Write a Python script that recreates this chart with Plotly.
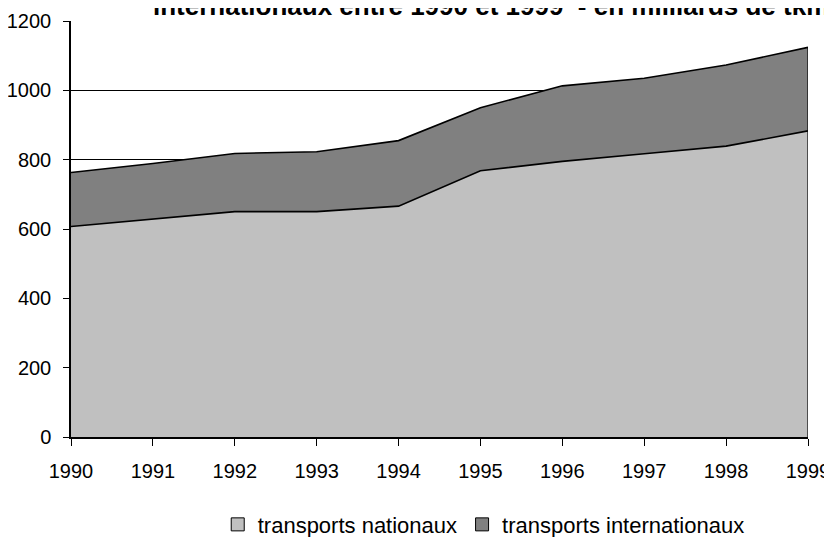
import plotly.graph_objects as go

years = [1990, 1991, 1992, 1993, 1994, 1995, 1996, 1997, 1998, 1999]
nationaux = [607, 628, 650, 650, 666, 768, 795, 817, 839, 883]
internationaux = [156, 161, 168, 173, 189, 182, 218, 218, 234, 241]
y_ticks = [0, 200, 400, 600, 800, 1000, 1200]
title_text = "internationaux entre 1990 et 1999  - en milliards de tkm"
names = ["transports nationaux", "transports internationaux"]
fills = ["#C0C0C0", "#808080"]

FONT = "Liberation Sans, Arial, sans-serif"

fig = go.Figure()
for vals, nm, col in zip([nationaux, internationaux], names, fills):
    fig.add_trace(go.Scatter(
        x=years, y=vals, stackgroup="s", mode="lines",
        line=dict(color="black", width=1.6), fillcolor=col,
        name=nm, showlegend=False, hoverinfo="skip"))

# right edge border of the stacked area
total_last = nationaux[-1] + internationaux[-1]
fig.add_trace(go.Scatter(x=[years[-1], years[-1]], y=[0, total_last], mode="lines",
                         line=dict(color="black", width=1.2), showlegend=False,
                         hoverinfo="skip"))

# legend entries (square swatches)
for nm, col in zip(names, fills):
    fig.add_trace(go.Scatter(x=[None], y=[None], mode="markers", name=nm,
                             marker=dict(symbol="square", size=13, color=col,
                                         line=dict(color="black", width=1))))

fig.update_layout(
    width=824, height=529,
    margin=dict(l=63, r=24, t=13, b=100, autoexpand=False),
    paper_bgcolor="white", plot_bgcolor="white",
    font=dict(family=FONT, color="black", size=20),
    showlegend=True,
    legend=dict(orientation="h", x=0.56, xanchor="center", y=-0.16, yanchor="top",
                font=dict(size=22, family=FONT), itemwidth=30,
                traceorder="normal"),
    xaxis=dict(range=[years[0], years[-1]], tickmode="array", tickvals=years,
               ticktext=[str(y) for y in years], showgrid=False, automargin=False,
               ticklabeloverflow="allow",
               showline=True, linecolor="black", linewidth=1.5,
               ticks="outside", ticklen=7, tickcolor="black", tickwidth=1,
               ticklabelstandoff=8, zeroline=False,
               tickfont=dict(size=20, family=FONT)),
    yaxis=dict(range=[0, 1200], tickmode="array", tickvals=y_ticks, automargin=False,
               showgrid=True, gridcolor="black", gridwidth=1,
               showline=True, linecolor="black", linewidth=1.5,
               ticks="outside", ticklen=6, tickcolor="black", tickwidth=1,
               ticklabelstandoff=8, zeroline=False,
               tickfont=dict(size=20, family=FONT)),
)

fig.add_annotation(text="<b>" + title_text + "</b>", xref="paper", yref="paper",
                   x=(151 - 71) / 737, xanchor="left", y=0.996, yanchor="bottom",
                   showarrow=False, font=dict(size=26, family=FONT, color="black"))

fig.write_html("out.html")
